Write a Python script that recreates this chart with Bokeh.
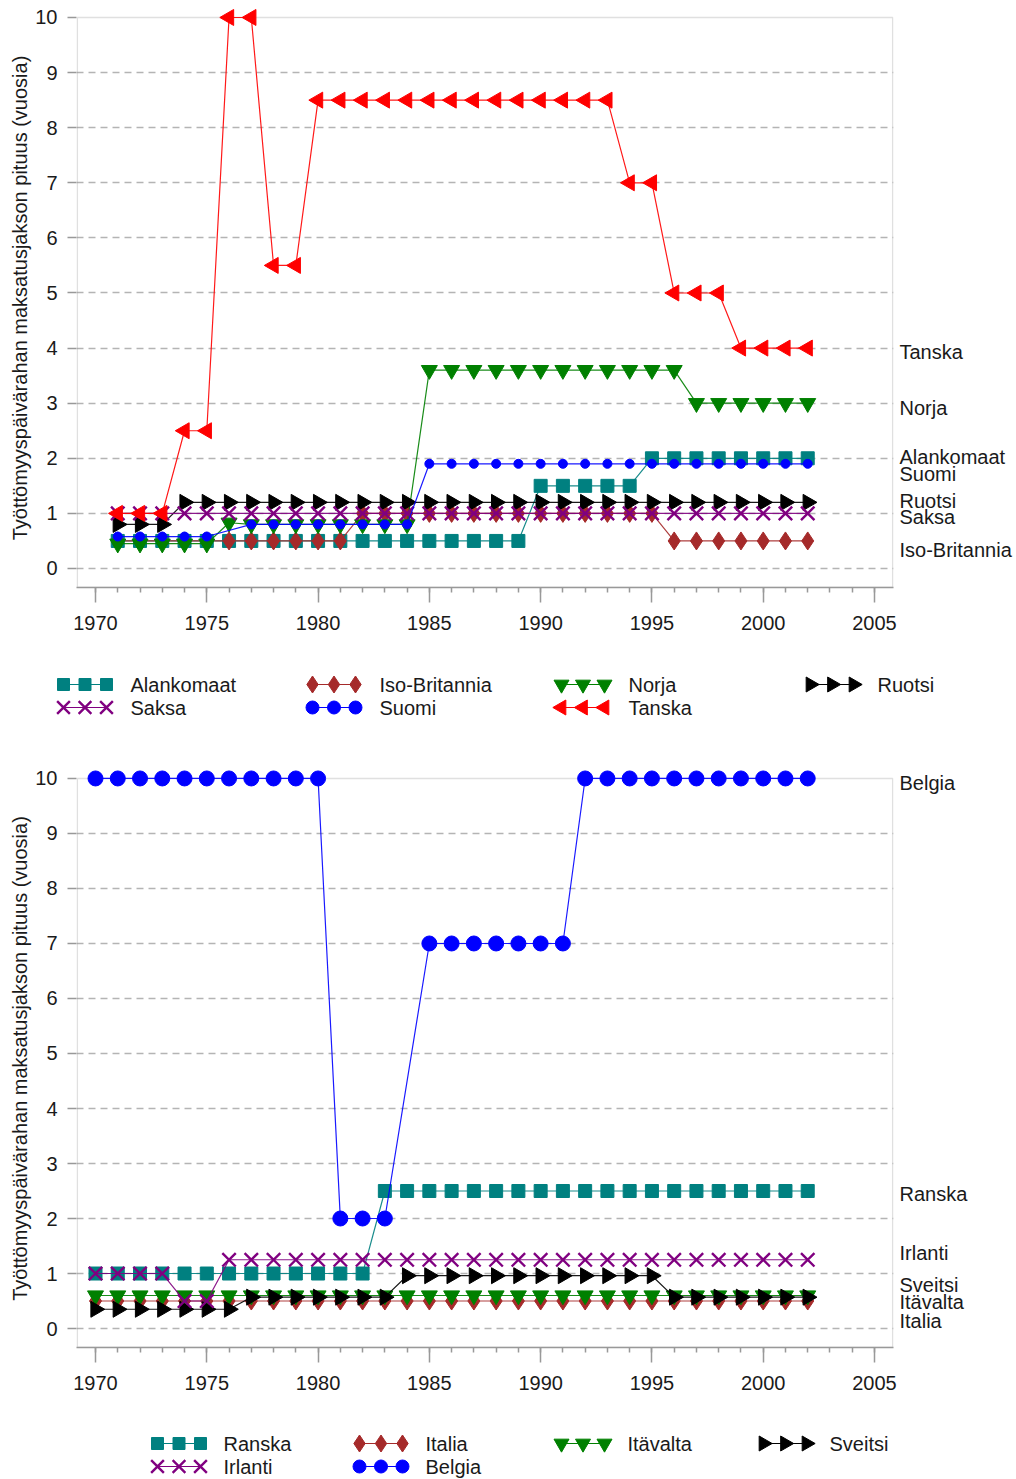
import math
from bokeh.plotting import figure
from bokeh.models import Range1d, LinearAxis, FixedTicker, SingleIntervalTicker, BoxAnnotation
from bokeh.layouts import column
from bokeh.core.properties import value
from bokeh.embed import file_html
from bokeh.resources import INLINE

# ---------------- data: top chart (1971-2002) ----------------
years_top = list(range(1971, 2003))
alankomaat = [0.5, 0.5, 0.5, 0.5, 0.5, 0.5, 0.5, 0.5, 0.5, 0.5, 0.5, 0.5, 0.5, 0.5, 0.5, 0.5, 0.5, 0.5, 0.5,
              1.5, 1.5, 1.5, 1.5, 1.5,
              2.0, 2.0, 2.0, 2.0, 2.0, 2.0, 2.0, 2.0]
iso_britannia = [0.5, 0.5, 0.5, 0.5, 0.5, 0.5, 0.5, 0.5, 0.5, 0.5, 0.5,
                 1.0, 1.0, 1.0, 1.0, 1.0, 1.0, 1.0, 1.0, 1.0, 1.0, 1.0, 1.0, 1.0, 1.0,
                 0.5, 0.5, 0.5, 0.5, 0.5, 0.5, 0.5]
norja = [0.45, 0.45, 0.45, 0.45, 0.45, 0.83,
         0.8, 0.8, 0.8, 0.8, 0.8, 0.8, 0.8, 0.8,
         3.6, 3.6, 3.6, 3.6, 3.6, 3.6, 3.6, 3.6, 3.6, 3.6, 3.6, 3.6,
         3.0, 3.0, 3.0, 3.0, 3.0, 3.0]
ruotsi = [0.8, 0.8, 0.8,
          1.2, 1.2, 1.2, 1.2, 1.2, 1.2, 1.2, 1.2, 1.2, 1.2, 1.2, 1.2, 1.2, 1.2, 1.2, 1.2, 1.2, 1.2, 1.2, 1.2,
          1.2, 1.2, 1.2, 1.2, 1.2, 1.2, 1.2, 1.2, 1.2]
saksa = [1.0, 1.0, 1.0, 1.0, 1.0, 1.0, 1.0, 1.0, 1.0, 1.0, 1.0, 1.0, 1.0, 1.0, 1.0, 1.0,
         1.0, 1.0, 1.0, 1.0, 1.0, 1.0, 1.0, 1.0, 1.0, 1.0, 1.0, 1.0, 1.0, 1.0, 1.0, 1.0]
suomi_years = [1971, 1972, 1973, 1974, 1975] + list(range(1977, 2003))
suomi = [0.58, 0.58, 0.58, 0.58, 0.58,
         0.8, 0.8, 0.8, 0.8, 0.8, 0.8, 0.8, 0.8,
         1.9, 1.9, 1.9, 1.9, 1.9, 1.9, 1.9, 1.9, 1.9, 1.9, 1.9, 1.9, 1.9, 1.9, 1.9, 1.9, 1.9, 1.9]
tanska = [1.0, 1.0, 1.0, 2.5, 2.5, 10.0, 10.0, 5.5, 5.5,
          8.5, 8.5, 8.5, 8.5, 8.5, 8.5, 8.5, 8.5, 8.5, 8.5, 8.5, 8.5, 8.5, 8.5,
          7.0, 7.0, 5.0, 5.0, 5.0, 4.0, 4.0, 4.0, 4.0]

# ---------------- data: bottom chart (1970-2002) ----------------
years_bot = list(range(1970, 2003))
ranska = [1.0, 1.0, 1.0, 1.0, 1.0, 1.0, 1.0, 1.0, 1.0, 1.0, 1.0, 1.0, 1.0,
          2.5, 2.5, 2.5, 2.5, 2.5, 2.5, 2.5, 2.5, 2.5, 2.5, 2.5, 2.5, 2.5, 2.5, 2.5, 2.5, 2.5, 2.5, 2.5, 2.5]
italia = [0.5, 0.5, 0.5, 0.5, 0.5, 0.5, 0.5, 0.5, 0.5, 0.5, 0.5, 0.5, 0.5, 0.5, 0.5, 0.5, 0.5,
          0.5, 0.5, 0.5, 0.5, 0.5, 0.5, 0.5, 0.5, 0.5, 0.5, 0.5, 0.5, 0.5, 0.5, 0.5, 0.5]
itavalta = [0.6, 0.6, 0.6, 0.6, 0.6, 0.6, 0.6, 0.6, 0.6, 0.6, 0.6, 0.6, 0.6, 0.6, 0.6, 0.6, 0.6,
            0.6, 0.6, 0.6, 0.6, 0.6, 0.6, 0.6, 0.6, 0.6, 0.6, 0.6, 0.6, 0.6, 0.6, 0.6, 0.6]
sveitsi = [0.35, 0.35, 0.35, 0.35, 0.35, 0.35, 0.35,
           0.57, 0.57, 0.57, 0.57, 0.57, 0.57, 0.57,
           0.96, 0.96, 0.96, 0.96, 0.96, 0.96, 0.96, 0.96, 0.96, 0.96, 0.96, 0.96,
           0.57, 0.57, 0.57, 0.57, 0.57, 0.57, 0.57]
irlanti = [1.0, 1.0, 1.0, 1.0, 0.5, 0.5,
           1.25, 1.25, 1.25, 1.25, 1.25, 1.25, 1.25, 1.25, 1.25, 1.25, 1.25, 1.25, 1.25, 1.25,
           1.25, 1.25, 1.25, 1.25, 1.25, 1.25, 1.25, 1.25, 1.25, 1.25, 1.25, 1.25, 1.25]
belgia_years = list(range(1970, 1984)) + list(range(1985, 2003))
belgia = [10.0, 10.0, 10.0, 10.0, 10.0, 10.0, 10.0, 10.0, 10.0, 10.0, 10.0,
          2.0, 2.0, 2.0,
          7.0, 7.0, 7.0, 7.0, 7.0, 7.0, 7.0,
          10.0, 10.0, 10.0, 10.0, 10.0, 10.0, 10.0, 10.0, 10.0, 10.0, 10.0]

y_ticks = [0, 1, 2, 3, 4, 5, 6, 7, 8, 9, 10]
y_title = "Työttömyyspäivärahan maksatusjakson pituus (vuosia)"

top_series = [("Alankomaat", years_top, alankomaat), ("Iso-Britannia", years_top, iso_britannia),
              ("Norja", years_top, norja), ("Ruotsi", years_top, ruotsi), ("Saksa", years_top, saksa),
              ("Suomi", suomi_years, suomi), ("Tanska", years_top, tanska)]
bot_series = [("Ranska", years_bot, ranska), ("Italia", years_bot, italia), ("Itävalta", years_bot, itavalta),
              ("Sveitsi", years_bot, sveitsi), ("Irlanti", years_bot, irlanti), ("Belgia", belgia_years, belgia)]

# right-hand end labels (label placement, in axis units)
top_end_labels = [("Tanska", 3.92), ("Norja", 2.92), ("Alankomaat", 2.03), ("Suomi", 1.71),
                  ("Ruotsi", 1.23), ("Saksa", 0.93), ("Iso-Britannia", 0.33)]
bot_end_labels = [("Belgia", 9.91), ("Ranska", 2.44), ("Irlanti", 1.38), ("Sveitsi", 0.8),
                  ("Itävalta", 0.49), ("Italia", 0.13)]

# ---------------- styles ----------------
FONT = "Liberation Sans"
TXT = "#1a1a1a"
FRAME = "#999999"
GRID = "#b4b4b4"
TEAL, BROWN, GREEN, BLACK, PURPLE, BLUE, RED = "#008080", "#a52a2a", "#008000", "#000000", "#800080", "#0000ff", "#ff0000"
STYLE = {
    "Alankomaat": dict(color=TEAL, marker="square", size=13, angle=0.0),
    "Ranska": dict(color=TEAL, marker="square", size=13, angle=0.0),
    "Iso-Britannia": dict(color=BROWN, marker="diamond", size=18, angle=0.0),
    "Italia": dict(color=BROWN, marker="diamond", size=18, angle=0.0),
    "Norja": dict(color=GREEN, marker="inverted_triangle", size=16, angle=0.0),
    "Itävalta": dict(color=GREEN, marker="inverted_triangle", size=16, angle=0.0),
    "Ruotsi": dict(color=BLACK, marker="triangle", size=16, angle=-math.pi / 2),
    "Sveitsi": dict(color=BLACK, marker="triangle", size=16, angle=-math.pi / 2),
    "Saksa": dict(color=PURPLE, marker="x", size=19, angle=0.0),
    "Irlanti": dict(color=PURPLE, marker="x", size=19, angle=0.0),
    "Suomi": dict(color=BLUE, marker="circle", size=9, angle=0.0),
    "Belgia": dict(color=BLUE, marker="circle", size=15, angle=0.0),
    "Tanska": dict(color=RED, marker="triangle", size=16, angle=math.pi / 2),
}
LEGEND_SIZE = {"circle": 13, "square": 12, "diamond": 17, "x": 18, "inverted_triangle": 15, "triangle": 15}

W = 1016
FRAME_L, FRAME_W = 76, 817
FRAME_R = W - FRAME_L - FRAME_W
X0, X1 = 1969.146, 2005.854
Y0, Y1 = -0.345, 10.163
BOTTOM_BORDER = 51
PX_X = FRAME_W / (X1 - X0)


def draw_marker(p, xs, ys, st, size):
    if st["marker"] == "x":
        p.scatter(xs, ys, marker="x", size=size, line_color=st["color"], line_width=2.4)
    else:
        p.scatter(xs, ys, marker=st["marker"], size=size, angle=st["angle"],
                  fill_color=st["color"], line_color=st["color"], line_width=1)


def make_chart(series, end_labels, top_border, frame_h):
    p = figure(width=W, height=top_border + frame_h + BOTTOM_BORDER,
               x_range=Range1d(X0, X1), y_range=Range1d(Y0, Y1),
               output_backend="svg", toolbar_location=None,
               min_border_left=FRAME_L, min_border_right=FRAME_R,
               min_border_top=top_border, min_border_bottom=BOTTOM_BORDER)
    p.frame_align = False
    p.outline_line_color = None
    p.background_fill_color = "white"
    p.xgrid.visible = False
    p.ygrid.ticker = FixedTicker(ticks=y_ticks[:-1])
    p.ygrid.grid_line_color = GRID
    p.ygrid.grid_line_dash = "7 5"
    p.ygrid.grid_line_width = 1.5

    xa = p.xaxis[0]
    xa.ticker = SingleIntervalTicker(interval=5, num_minor_ticks=5)
    xa.axis_line_color = FRAME
    xa.axis_line_width = 1.5
    xa.major_tick_out = 15
    xa.major_tick_in = 0
    xa.minor_tick_out = 5
    xa.minor_tick_in = 0
    xa.major_tick_line_color = FRAME
    xa.minor_tick_line_color = FRAME
    xa.major_tick_line_width = 1.5
    xa.minor_tick_line_width = 1.5
    xa.major_label_standoff = 13
    xa.major_label_text_font = FONT
    xa.major_label_text_font_size = "20px"
    xa.major_label_text_color = TXT

    ya = p.yaxis[0]
    ya.ticker = FixedTicker(ticks=y_ticks)
    ya.axis_line_color = None
    ya.major_tick_out = 9
    ya.major_tick_in = 0
    ya.minor_tick_line_color = None
    ya.major_tick_line_color = FRAME
    ya.major_tick_line_width = 1.5
    ya.major_label_standoff = 10
    ya.major_label_text_font = FONT
    ya.major_label_text_font_size = "20px"
    ya.major_label_text_color = TXT
    ya.axis_label = y_title
    ya.axis_label_text_font = FONT
    ya.axis_label_text_font_size = "20px"
    ya.axis_label_text_font_style = "normal"
    ya.axis_label_text_color = TXT
    ya.axis_label_standoff = 1

    ra = LinearAxis(ticker=FixedTicker(ticks=[v for _, v in end_labels]),
                    major_label_overrides={v: n for n, v in end_labels})
    ra.axis_line_color = None
    ra.major_tick_line_color = None
    ra.minor_tick_line_color = None
    ra.major_tick_out = 0
    ra.major_tick_in = 0
    ra.major_label_standoff = 6
    ra.major_label_text_font = FONT
    ra.major_label_text_font_size = "20px"
    ra.major_label_text_color = TXT
    p.add_layout(ra, "right")

    inset = 0.8 / PX_X
    box = BoxAnnotation(left=X0 + inset, right=X1 - inset, bottom=Y0, top=10, fill_color=None,
                        line_color=FRAME, line_width=1.5, level="underlay")
    p.add_layout(box)

    for name, xs, ys in series:
        st = STYLE[name]
        p.line(xs, ys, line_color=st["color"], line_width=1.2, line_alpha=0.9)
        draw_marker(p, xs, ys, st, st["size"])
    return p


def make_legend(series, height, first_x, pitch, rows_y, text_off):
    # frame covers the whole figure; x / y are page pixels
    lg = figure(width=W, height=height, x_range=Range1d(0, W), y_range=Range1d(height, 0),
                output_backend="svg", toolbar_location=None, min_border=0,
                x_axis_location=None, y_axis_location=None)
    lg.frame_align = False
    lg.outline_line_color = None
    lg.grid.visible = False
    for i, (name, _, _) in enumerate(series):
        st = STYLE[name]
        col, row = i % 4, i // 4
        cx = first_x + pitch * col
        cy = rows_y[row]
        xs = [cx, cx + 21.5, cx + 43]
        lg.line(xs, [cy, cy, cy], line_color=st["color"], line_width=1.2)
        draw_marker(lg, xs, [cy, cy, cy], st, LEGEND_SIZE[st["marker"]])
        lg.text(x=[cx + text_off], y=[cy], text=[name], text_baseline="middle", text_align="left",
                text_font=value(FONT), text_font_size="20px", text_color=TXT)
    return lg


p1 = make_chart(top_series, top_end_labels, 8, 579)
l1 = make_legend(top_series, 87, 63, 249, [46, 69], 67)
p2 = make_chart(bot_series, bot_end_labels, 44, 578)
l2 = make_legend(bot_series, 81, 157, 202, [45, 68], 66)

layout = column(p1, l1, p2, l2, spacing=0)
open("out.html", "w").write(file_html(layout, INLINE))
